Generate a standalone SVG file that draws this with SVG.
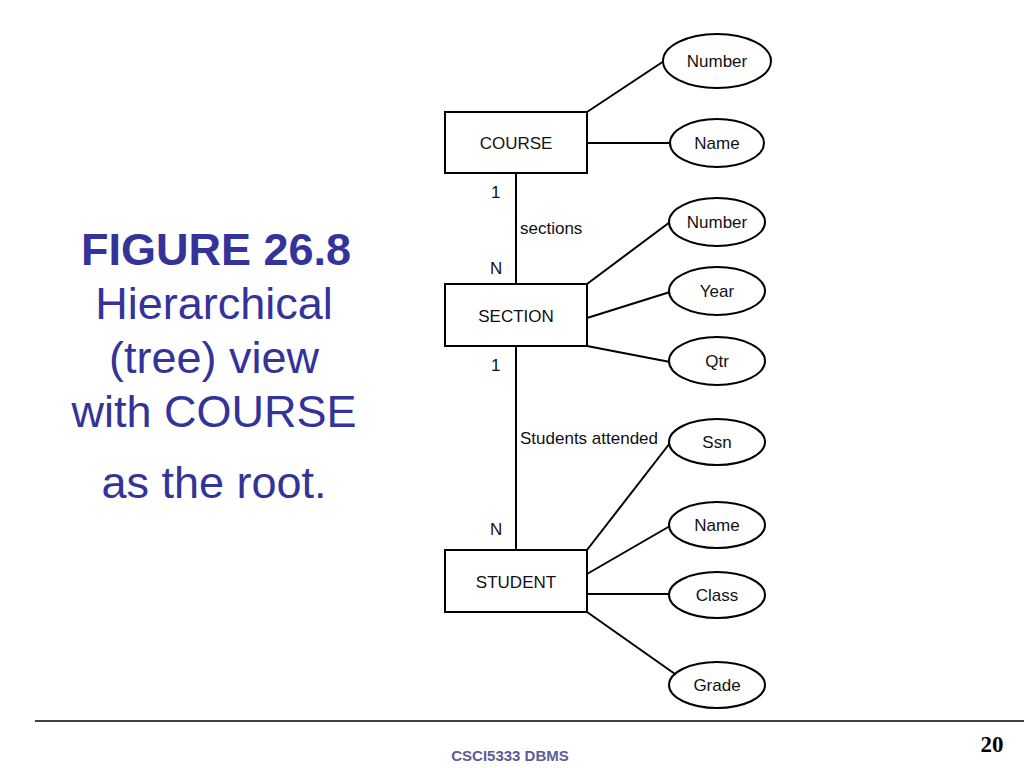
<svg xmlns="http://www.w3.org/2000/svg" width="1024" height="768" viewBox="0 0 1024 768">
<style>
.box{fill:#fff;stroke:#000;stroke-width:2}
.att{fill:#fff;stroke:#000;stroke-width:2}
.ln{stroke:#000;stroke-width:2;fill:none}
.t{font-family:"Liberation Sans",Arial,sans-serif;font-size:17px;fill:#111}
.c{text-anchor:middle;dominant-baseline:central}
.cap{font-family:"Liberation Sans",Arial,sans-serif;font-size:45px;fill:#333399;text-anchor:middle}
</style>
<rect width="1024" height="768" fill="#fff"/>
<g id="title">
<text class="cap" x="216" y="265" font-weight="bold">FIGURE 26.8</text>
<text class="cap" x="214" y="319">Hierarchical</text>
<text class="cap" x="214" y="373">(tree) view</text>
<text class="cap" x="214" y="427">with COURSE</text>
<text class="cap" x="214" y="498">as the root.</text>
</g>
<g id="connectors">
<line class="ln" x1="516" y1="173" x2="516" y2="284"/>
<line class="ln" x1="516" y1="346" x2="516" y2="550"/>
<line class="ln" x1="587" y1="112" x2="664" y2="61"/>
<line class="ln" x1="587" y1="143" x2="670" y2="143"/>
<line class="ln" x1="587" y1="284" x2="670" y2="222"/>
<line class="ln" x1="587" y1="318" x2="670" y2="292"/>
<line class="ln" x1="587" y1="346" x2="670" y2="362"/>
<line class="ln" x1="587" y1="550" x2="670" y2="443"/>
<line class="ln" x1="587" y1="574" x2="670" y2="526"/>
<line class="ln" x1="587" y1="594" x2="670" y2="594"/>
<line class="ln" x1="587" y1="612" x2="675" y2="674"/>
<text class="t" x="491" y="198">1</text>
<text class="t" x="520" y="234">sections</text>
<text class="t" x="490" y="274">N</text>
<text class="t" x="491" y="371">1</text>
<text class="t" x="520" y="444">Students attended</text>
<text class="t" x="490" y="535">N</text>
</g>
<g id="course"><rect class="box" x="445" y="112" width="142" height="61"/><text class="t c" x="516" y="143">COURSE</text></g>
<g id="section"><rect class="box" x="445" y="284" width="142" height="62"/><text class="t c" x="516" y="316">SECTION</text></g>
<g id="student"><rect class="box" x="445" y="550" width="142" height="62"/><text class="t c" x="516" y="582">STUDENT</text></g>
<g id="c-number"><ellipse class="att" cx="717" cy="61" rx="54" ry="27"/><text class="t c" x="717" y="61">Number</text></g>
<g id="c-name"><ellipse class="att" cx="717" cy="143" rx="47" ry="24"/><text class="t c" x="717" y="143">Name</text></g>
<g id="s-number"><ellipse class="att" cx="717" cy="222" rx="48" ry="24"/><text class="t c" x="717" y="222">Number</text></g>
<g id="s-year"><ellipse class="att" cx="717" cy="291" rx="48" ry="24"/><text class="t c" x="717" y="291">Year</text></g>
<g id="s-qtr"><ellipse class="att" cx="717" cy="361" rx="48" ry="24"/><text class="t c" x="717" y="361">Qtr</text></g>
<g id="st-ssn"><ellipse class="att" cx="717" cy="442" rx="48" ry="23"/><text class="t c" x="717" y="442">Ssn</text></g>
<g id="st-name"><ellipse class="att" cx="717" cy="525" rx="48" ry="23"/><text class="t c" x="717" y="525">Name</text></g>
<g id="st-class"><ellipse class="att" cx="717" cy="595" rx="48" ry="23"/><text class="t c" x="717" y="595">Class</text></g>
<g id="st-grade"><ellipse class="att" cx="717" cy="685" rx="48" ry="23"/><text class="t c" x="717" y="685">Grade</text></g>
<g id="footer">
<line x1="35" y1="721" x2="1024" y2="721" stroke="#000" stroke-width="1.5"/>
<text x="510" y="761" font-family="'Liberation Sans',Arial,sans-serif" font-size="15" font-weight="bold" fill="#5c5c99" text-anchor="middle">CSCI5333 DBMS</text>
<text x="992" y="752" font-family="'Liberation Serif','Times New Roman',serif" font-size="23" font-weight="bold" fill="#000" text-anchor="middle">20</text>
</g>
</svg>
